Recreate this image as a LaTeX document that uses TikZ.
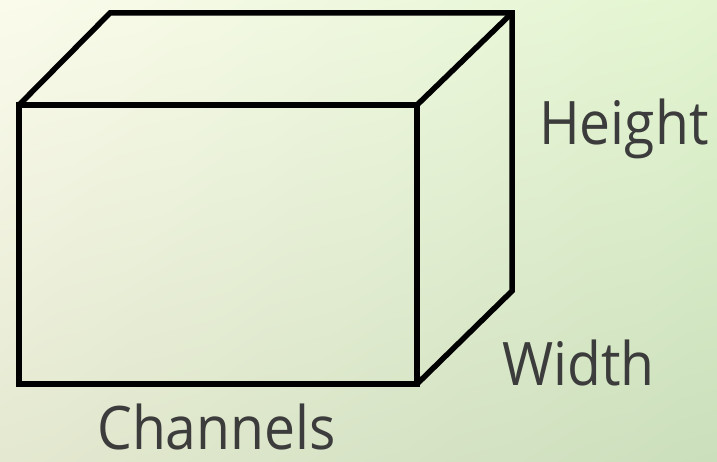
\documentclass[tikz,border=0pt]{standalone}
\usepackage{fontspec}
\setmainfont{Open Sans}
\usetikzlibrary{shadings}
\definecolor{bgul}{RGB}{251,251,236}
\definecolor{bgur}{RGB}{226,245,208}
\definecolor{bgll}{RGB}{228,232,208}
\definecolor{bglr}{RGB}{203,223,188}
\definecolor{labcol}{RGB}{60,60,60}
\newcommand{\narrow}[1]{\scalebox{0.92}[1]{#1}}
\begin{document}
\begin{tikzpicture}[x=1pt,y=-1pt,
  edge/.style={line width=5.5pt,black},
  lab/.style={font=\fontsize{60}{60}\selectfont,text=labcol,inner sep=0pt,anchor=base west}]
\useasboundingbox (0,0) rectangle (717,462);
\shade[upper left=bgul,upper right=bgur,lower left=bgll,lower right=bglr]
  (0,0) rectangle (717,462);
\coordinate (fa) at (19,105);
\coordinate (fb) at (417,105);
\coordinate (fc) at (417,384);
\coordinate (fd) at (19,384);
\coordinate (ba) at (110,13);
\coordinate (bb) at (512,13);
\coordinate (bc) at (512,291);
\draw[edge] (fa) -- (fb) -- (fc) -- (fd) -- cycle;
\draw[edge] (fa) -- (ba) -- (bb) -- (bc) -- (fc);
\draw[edge] (fb) -- (bb);
\node[lab] (h) at (539,145) {\narrow{Height}};
\node[lab] (w) at (502,385) {\narrow{Width}};
\node[lab] (c) at (97,449) {\narrow{Channels}};
\end{tikzpicture}
\end{document}
